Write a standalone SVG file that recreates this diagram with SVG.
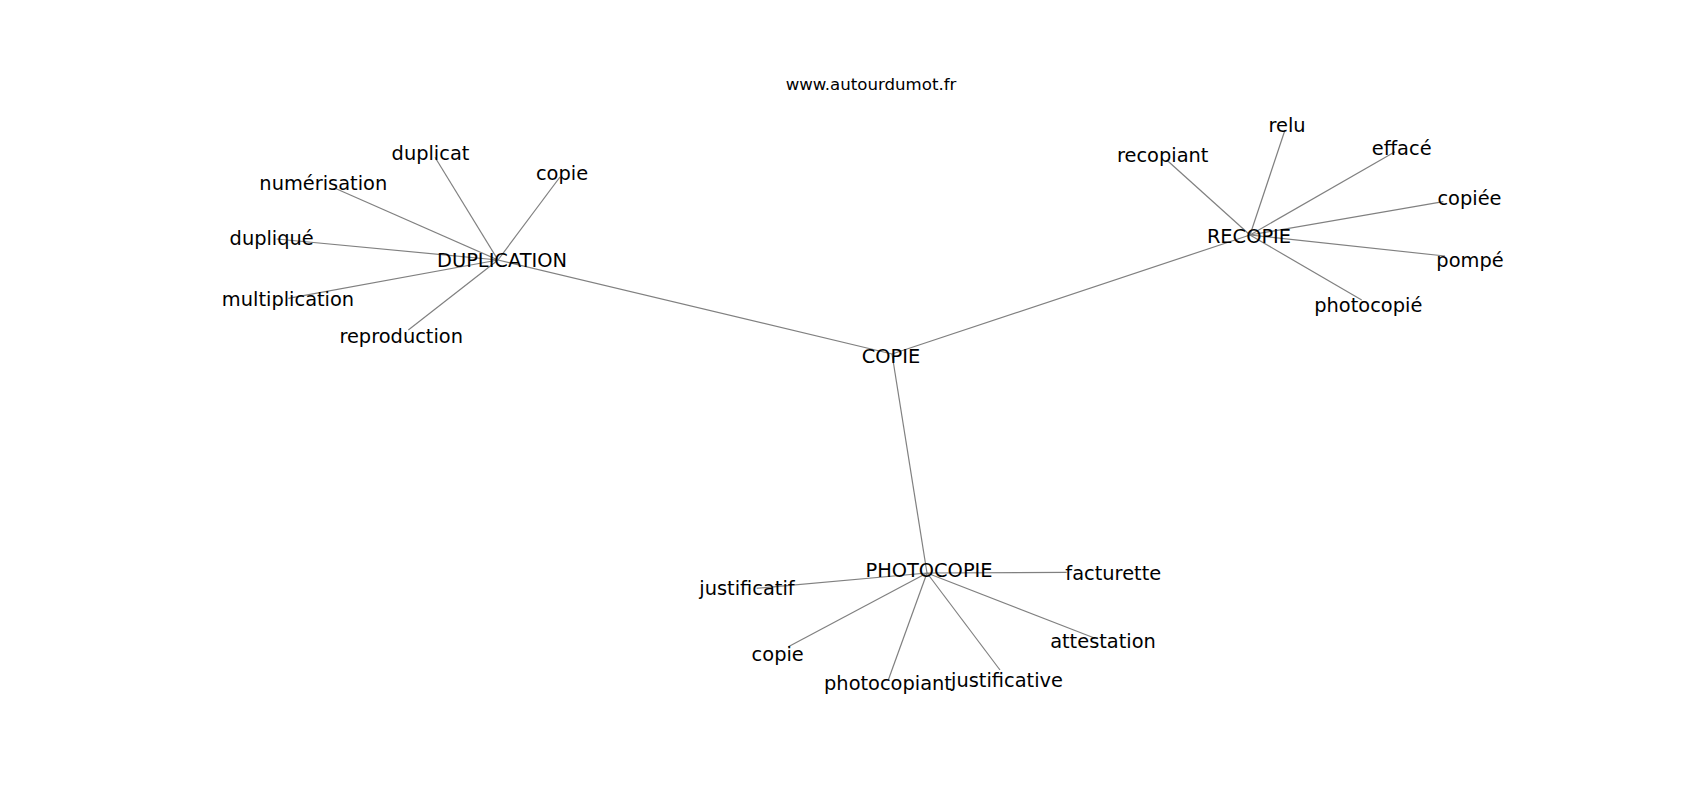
<svg xmlns="http://www.w3.org/2000/svg" width="1700" height="800" viewBox="0 0 1700 800">
<style>
.e{stroke:#808080;stroke-width:1.2;fill:none}
.l{font-family:"DejaVu Sans",sans-serif;font-size:19.4px;fill:#000;text-anchor:middle}
.t{font-family:"DejaVu Sans",sans-serif;font-size:16.6px;fill:#000;text-anchor:middle}
</style>
<rect width="1700" height="800" fill="#fff"/>
<text class="t" x="871" y="89.5">www.autourdumot.fr</text>
<g id="edges">
<line class="e" x1="892" y1="354" x2="498" y2="260"/>
<line class="e" x1="892" y1="354" x2="1250" y2="235"/>
<line class="e" x1="892" y1="354" x2="927" y2="573"/>
<line class="e" x1="498" y1="260" x2="435" y2="157.3"/>
<line class="e" x1="498" y1="260" x2="560" y2="177"/>
<line class="e" x1="498" y1="260" x2="335" y2="188.3"/>
<line class="e" x1="498" y1="260" x2="276.7" y2="239"/>
<line class="e" x1="498" y1="260" x2="288.3" y2="298.3"/>
<line class="e" x1="498" y1="260" x2="408.3" y2="330"/>
<line class="e" x1="1250" y1="235" x2="1166.7" y2="160"/>
<line class="e" x1="1250" y1="235" x2="1285" y2="130"/>
<line class="e" x1="1250" y1="235" x2="1395" y2="151.7"/>
<line class="e" x1="1250" y1="235" x2="1443.3" y2="201.7"/>
<line class="e" x1="1250" y1="235" x2="1445" y2="256"/>
<line class="e" x1="1250" y1="235" x2="1361.7" y2="300"/>
<line class="e" x1="927" y1="573" x2="756.7" y2="588.3"/>
<line class="e" x1="927" y1="573" x2="788.3" y2="646.7"/>
<line class="e" x1="927" y1="573" x2="888.3" y2="680"/>
<line class="e" x1="927" y1="573" x2="1000" y2="670"/>
<line class="e" x1="927" y1="573" x2="1095" y2="638.3"/>
<line class="e" x1="927" y1="573" x2="1066.7" y2="572.3"/>
</g>
<g id="n-copie"><text class="l" x="891" y="362.5">COPIE</text></g>
<g id="n-duplication"><text class="l" x="502" y="266.5">DUPLICATION</text></g>
<g id="n-recopie"><text class="l" x="1249" y="243">RECOPIE</text></g>
<g id="n-photocopie"><text class="l" x="929" y="576.5">PHOTOCOPIE</text></g>
<g id="n-duplicat"><text class="l" x="430.5" y="159.8">duplicat</text></g>
<g id="n-copie1"><text class="l" x="562" y="179.5">copie</text></g>
<g id="n-numerisation"><text class="l" x="323.3" y="189.8">numérisation</text></g>
<g id="n-duplique"><text class="l" x="271.7" y="244.8">dupliqué</text></g>
<g id="n-multiplication"><text class="l" x="288" y="305.5">multiplication</text></g>
<g id="n-reproduction"><text class="l" x="401.2" y="343">reproduction</text></g>
<g id="n-recopiant"><text class="l" x="1162.7" y="161.5">recopiant</text></g>
<g id="n-relu"><text class="l" x="1287" y="131.5">relu</text></g>
<g id="n-efface"><text class="l" x="1401.7" y="154.8">effacé</text></g>
<g id="n-copiee"><text class="l" x="1469.5" y="204.8">copiée</text></g>
<g id="n-pompe"><text class="l" x="1470" y="266.5">pompé</text></g>
<g id="n-photocopie2"><text class="l" x="1368.3" y="312">photocopié</text></g>
<g id="n-justificatif"><text class="l" x="747" y="594.8">justificatif</text></g>
<g id="n-copie2"><text class="l" x="777.7" y="660.8">copie</text></g>
<g id="n-photocopiant"><text class="l" x="888" y="689.8">photocopiant</text></g>
<g id="n-justificative"><text class="l" x="1007" y="686.5">justificative</text></g>
<g id="n-attestation"><text class="l" x="1103" y="647.5">attestation</text></g>
<g id="n-facturette"><text class="l" x="1113.3" y="579.8">facturette</text></g>
</svg>
